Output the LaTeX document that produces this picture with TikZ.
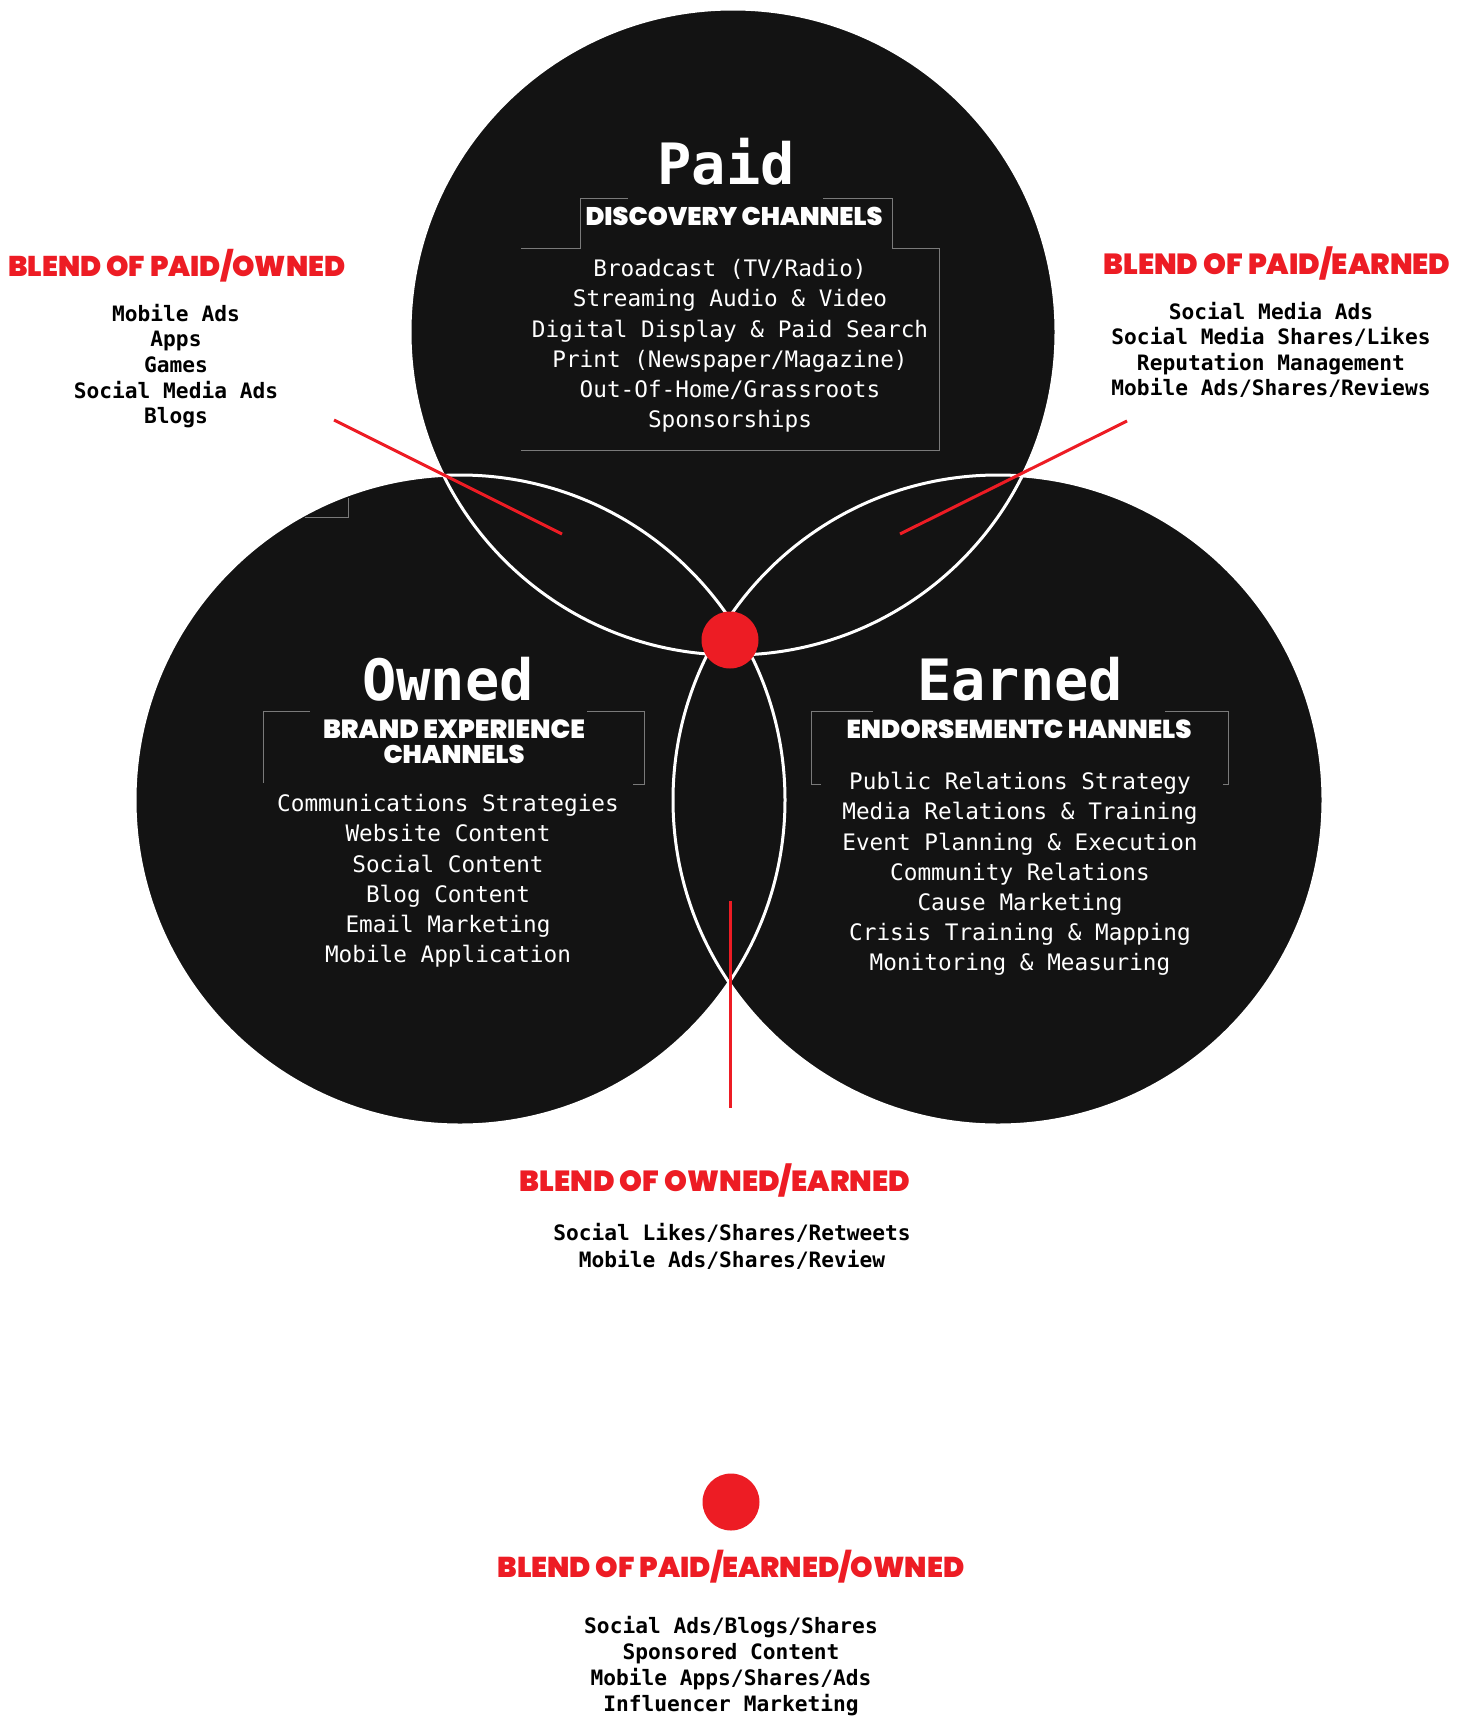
\documentclass[tikz,border=0pt]{standalone}
\usepackage{fontspec}
\usepackage{graphicx}
\setmonofont{DejaVu Sans Mono}
\newfontfamily\heavy{Poppins Black}
\definecolor{bred}{HTML}{ED1C24}
\definecolor{cfill}{HTML}{131313}
\definecolor{brk}{HTML}{7A7A7A}
\begin{document}
\begin{tikzpicture}[x=1pt,y=-1pt,
  venn/.style={fill=cfill},
  ring/.style={draw=white,line width=3pt},
  bigtitle/.style={text=white,font=\ttfamily\bfseries\fontsize{57}{60}\selectfont,inner sep=0pt},
  whitehead/.style={text=white,font=\heavy\fontsize{20}{25}\selectfont,inner sep=0pt,align=center},
  redhead/.style={text=bred,font=\heavy,inner sep=0pt},
  inlist/.style={text=white,font=\ttfamily\fontsize{22.7}{30.2}\selectfont,align=center,inner sep=0pt},
  outlist/.style={text=black,font=\ttfamily\bfseries\fontsize{21.2}{25.6}\selectfont,align=center,inner sep=0pt},
  bracket/.style={draw=brk,line width=1pt},
  redline/.style={draw=bred,line width=3pt},
  dot/.style={circle,fill=bred,minimum size=57pt,inner sep=0pt}]
\useasboundingbox (0,0) rectangle (1471,1716);
\fill[white] (0,0) rectangle (1471,1716);

% circles
\fill[venn] (733,332) circle[radius=323pt];
\fill[venn] (460,800) circle[radius=325pt];
\fill[venn] (998,800) circle[radius=325pt];
\draw[ring] (733,332) circle[radius=323pt];
\draw[ring] (460,800) circle[radius=325pt];
\draw[ring] (998,800) circle[radius=325pt];

% brackets
\draw[bracket] (521,248) -- (580,248) -- (580,198) -- (628,198);
\draw[bracket] (823,198) -- (892,198) -- (892,248) -- (939,248) -- (939,450) -- (521,450);
\draw[bracket] (310,711) -- (263,711) -- (263,783);
\draw[bracket] (587,711) -- (644,711) -- (644,784) -- (633,784);
\draw[bracket] (873,711) -- (811,711) -- (811,784) -- (821,784);
\draw[bracket] (1165,711) -- (1228,711) -- (1228,784) -- (1223,784);
\draw[bracket] (305,517) -- (348,517) -- (348,498);

% Paid
\node[bigtitle] (paidT) at (726,162) {Paid};
\node[whitehead] (paidH) at (734,216) {\resizebox{297pt}{!}{DISCOVERY CHANNELS}};
\node[inlist] (paidL) at (730,346) {Broadcast (TV/Radio)\\Streaming Audio \& Video\\Digital Display \& Paid Search\\Print (Newspaper/Magazine)\\Out-Of-Home/Grassroots\\Sponsorships};

% Owned
\node[bigtitle] (ownT) at (448,679) {Owned};
\node[whitehead] (ownH) at (454,742) {\resizebox{262pt}{!}{BRAND EXPERIENCE}\\\resizebox{141pt}{!}{CHANNELS}};
\node[inlist] (ownL) at (448,881) {Communications Strategies\\Website Content\\Social Content\\Blog Content\\Email Marketing\\Mobile Application};

% Earned
\node[bigtitle] (earT) at (1020,679) {Earned};
\node[whitehead] (earH) at (1019,729) {\resizebox{345pt}{!}{ENDORSEMENTC HANNELS}};
\node[inlist] (earL) at (1020,874) {Public Relations Strategy\\Media Relations \& Training\\Event Planning \& Execution\\Community Relations\\Cause Marketing\\Crisis Training \& Mapping\\Monitoring \& Measuring};

% center dot
\node[dot] (cdot) at (730,640) {};

% blends
\node[redhead] (poH) at (177,266) {\resizebox{337pt}{!}{BLEND OF PAID/OWNED}};
\node[outlist] (poL) at (176,366) {Mobile Ads\\Apps\\Games\\Social Media Ads\\Blogs};

\node[redhead] (peH) at (1277,263) {\resizebox{347pt}{!}{BLEND OF PAID/EARNED}};
\node[outlist,font=\ttfamily\bfseries\fontsize{21.2}{25.3}\selectfont] (peL) at (1271,350) {Social Media Ads\\Social Media Shares/Likes\\Reputation Management\\Mobile Ads/Shares/Reviews};

\node[redhead] (oeH) at (715,1180) {\resizebox{390pt}{!}{BLEND OF OWNED/EARNED}};
\node[outlist,font=\ttfamily\bfseries\fontsize{21.2}{27}\selectfont] (oeL) at (732,1246) {Social Likes/Shares/Retweets\\Mobile Ads/Shares/Review};

\node[dot] (bdot) at (731,1502) {};
\node[redhead] (peoH) at (731,1567) {\resizebox{467pt}{!}{BLEND OF PAID/EARNED/OWNED}};
\node[outlist,font=\ttfamily\bfseries\fontsize{21.2}{26}\selectfont] (peoL) at (731,1666) {Social Ads/Blogs/Shares\\Sponsored Content\\Mobile Apps/Shares/Ads\\Influencer Marketing};

% connectors
\coordinate (poA) at (334,420);
\coordinate (poB) at (562,534);
\coordinate (peA) at (1127,421);
\coordinate (peB) at (900,534);
\coordinate (oeA) at (730,901);
\coordinate (oeB) at (730,1108);
\draw[redline] (poA) -- (poB);
\draw[redline] (peA) -- (peB);
\draw[redline] (oeA) -- (oeB);
\end{tikzpicture}
\end{document}
